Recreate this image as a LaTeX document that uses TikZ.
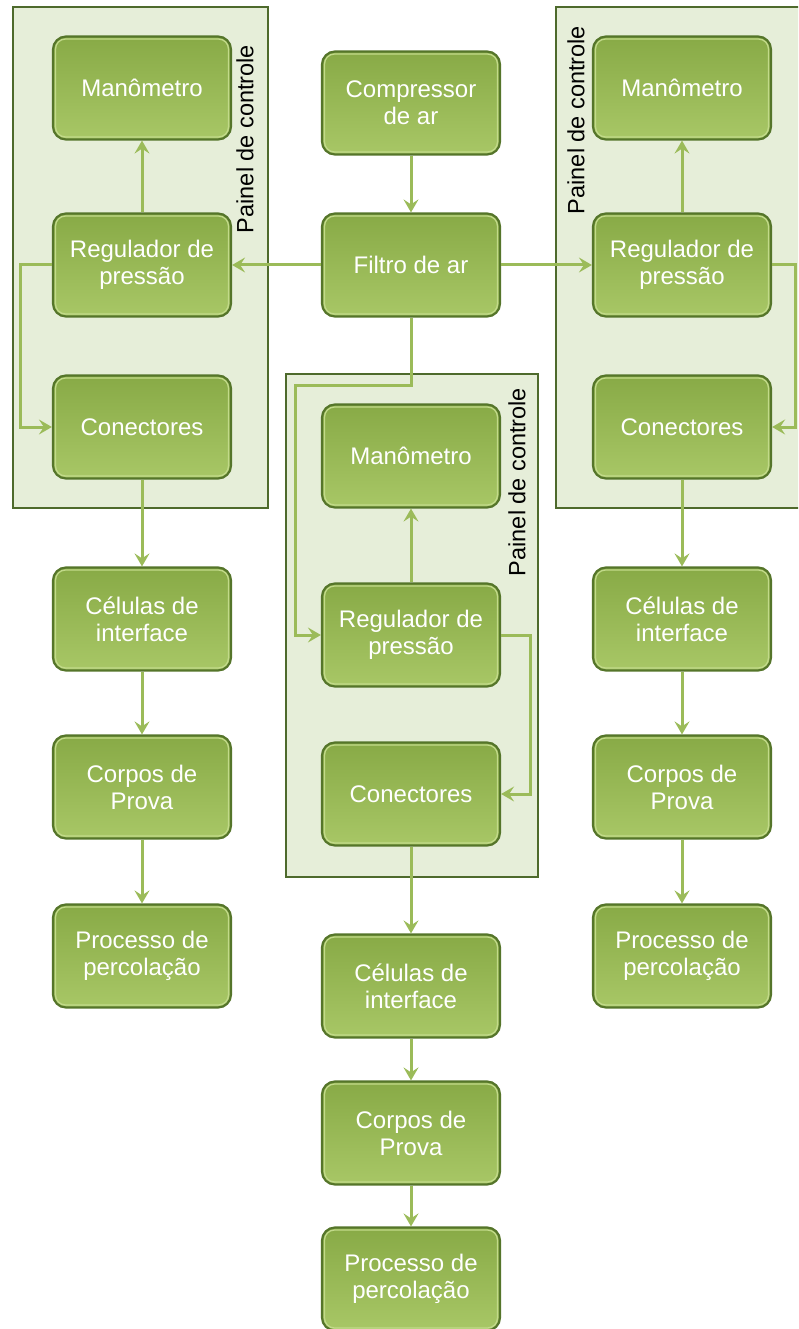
\documentclass[tikz,border=0pt]{standalone}
\usepackage{fontspec}
\setmainfont{Liberation Sans}
\usetikzlibrary{arrows.meta}
\definecolor{boxtop}{HTML}{88AA46}
\definecolor{boxbot}{HTML}{A8C766}
\definecolor{boxedge}{HTML}{55752A}
\definecolor{boxrim}{HTML}{C2DA8A}
\definecolor{panelfill}{HTML}{E6EED9}
\definecolor{paneledge}{HTML}{4E6A2C}
\definecolor{arrowc}{HTML}{9BBB59}
\begin{document}
\begin{tikzpicture}[x=1pt,y=-1pt,
 blk/.style={rectangle, rounded corners=13pt, minimum width=178pt, minimum height=103pt,
   draw=boxedge, line width=2.2pt, top color=boxtop, bottom color=boxbot, text=white,
   align=center, font=\fontsize{24}{27}\selectfont, inner sep=0pt,
   path picture={\draw[boxrim, line width=1.3pt, rounded corners=10pt]
     ([shift={(2.5pt,-2.5pt)}]path picture bounding box.north west) rectangle
     ([shift={(-2.5pt,2.5pt)}]path picture bounding box.south east);}},
 panel/.style={rectangle, draw=paneledge, fill=panelfill, line width=2pt, inner sep=0pt},
 plabel/.style={rotate=90, font=\fontsize{23.5}{27}\selectfont, text=black, inner sep=0pt},
 con/.style={draw=arrowc, line width=3pt, -{Stealth[length=13pt,width=15pt,inset=5pt]}},
]
\useasboundingbox (0,0) rectangle (798,1329);
\clip (0,0) rectangle (798,1329);
\fill[white] (0,0) rectangle (798,1329);

% panels
\node[panel, minimum width=255pt, minimum height=501pt] (pL) at (140.5,257.5) {};
\node[panel, minimum width=252pt, minimum height=503pt] (pC) at (412,625.5) {};
\node[panel, minimum width=254pt, minimum height=501pt] (pR) at (683,257.5) {};
\node[plabel] (lL) at (245,139) {Painel de controle};
\node[plabel] (lC) at (517,482) {Painel de controle};
\node[plabel] (lR) at (576,120) {Painel de controle};

% center column
\node[blk] (comp) at (411,103) {Compressor\\de ar};
\node[blk] (fil) at (411,265) {Filtro de ar};
\node[blk] (mC) at (411,456) {Manômetro};
\node[blk] (rC) at (411,635) {Regulador de\\pressão};
\node[blk] (cC) at (411,794) {Conectores};
\node[blk] (ceC) at (411,986) {Células de\\interface};
\node[blk] (coC) at (411,1133) {Corpos de\\Prova};
\node[blk] (prC) at (411,1279) {Processo de\\percolação};

% left column
\node[blk] (mL) at (142,88) {Manômetro};
\node[blk] (rL) at (142,265) {Regulador de\\pressão};
\node[blk] (cL) at (142,427) {Conectores};
\node[blk] (ceL) at (142,619) {Células de\\interface};
\node[blk] (coL) at (142,787) {Corpos de\\Prova};
\node[blk] (prL) at (142,956) {Processo de\\percolação};

% right column
\node[blk] (mR) at (682,88) {Manômetro};
\node[blk] (rR) at (682,265) {Regulador de\\pressão};
\node[blk] (cR) at (682,427) {Conectores};
\node[blk] (ceR) at (682,619) {Células de\\interface};
\node[blk] (coR) at (682,787) {Corpos de\\Prova};
\node[blk] (prR) at (682,956) {Processo de\\percolação};

% connectors
\draw[con] (comp.south) -- (fil.north);
\draw[con] (fil.west) -- (rL.east);
\draw[con] (fil.east) -- (rR.west);
\draw[con] (fil.south) -- ++(0,68) -- ++(-116,0) |- (rC.west);

\draw[con] (rL.north) -- (mL.south);
\draw[con] (rL.west) -- ++(-31,0) |- (cL.west);
\draw[con] (cL.south) -- (ceL.north);
\draw[con] (ceL.south) -- (coL.north);
\draw[con] (coL.south) -- (prL.north);

\draw[con] (rC.north) -- (mC.south);
\draw[con] (rC.east) -- ++(29,0) |- (cC.east);
\draw[con] (cC.south) -- (ceC.north);
\draw[con] (ceC.south) -- (coC.north);
\draw[con] (coC.south) -- (prC.north);

\draw[con] (rR.north) -- (mR.south);
\draw[con] (rR.east) -- ++(23,0) |- (cR.east);
\draw[con] (cR.south) -- (ceR.north);
\draw[con] (ceR.south) -- (coR.north);
\draw[con] (coR.south) -- (prR.north);
\end{tikzpicture}
\end{document}
